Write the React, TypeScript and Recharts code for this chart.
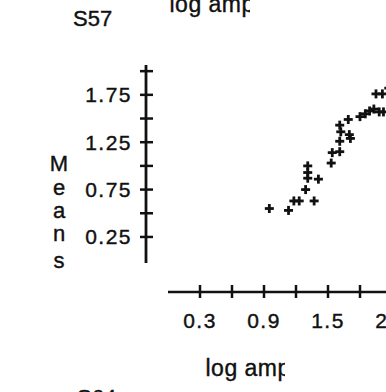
import { ScatterChart, Scatter, XAxis, YAxis } from 'recharts'

// log amplitude (x) and mean response (y)
const logAmp = [
  0.95, 1.13, 1.18, 1.23, 1.29, 1.37, 1.31, 1.31, 1.31, 1.41,
  1.53, 1.54, 1.61, 1.61, 1.61, 1.62, 1.69, 1.7, 1.71, 1.8,
  1.85, 1.89, 1.93, 1.98, 2.02, 1.95, 2.01, 2.07,
]
const means = [
  0.55, 0.53, 0.63, 0.63, 0.75, 0.63, 1.0, 0.93, 0.87, 0.86,
  1.03, 1.14, 1.15, 1.26, 1.43, 1.36, 1.49, 1.33, 1.29, 1.52,
  1.55, 1.58, 1.6, 1.57, 1.57, 1.76, 1.76, 1.82,
]
const points = logAmp.map((x, i) => ({ x, y: means[i] }))

const yTicks = [0.25, 0.5, 0.75, 1, 1.25, 1.5, 1.75, 2]
const yLabelled = [0.25, 0.75, 1.25, 1.75]
const xTicks = [0.3, 0.6, 0.9, 1.2, 1.5, 1.8, 2.1, 2.4]
const xLabelled = [0.3, 0.9, 1.5, 2.1]

const FONT = '"Liberation Sans", Arial, Helvetica, sans-serif'
const INK = '#111'
// scanned type is a little heavier than the regular face
const textInk = { fill: INK, stroke: INK, strokeWidth: 0.4 }

function Plus(props: any) {
  const { cx, cy } = props
  if (cx == null || cy == null) return null
  return (
    <g stroke={INK} strokeWidth={2.8}>
      <line x1={cx - 4.5} x2={cx + 4.5} y1={cy} y2={cy} />
      <line x1={cx} x2={cx} y1={cy - 4.5} y2={cy + 4.5} />
    </g>
  )
}

function YTick({ x, y, payload }: any) {
  const v = payload.value as number
  return (
    <g>
      <line x1={x - 6} x2={x + 7} y1={y} y2={y} stroke={INK} strokeWidth={2.5} />
      {yLabelled.includes(v) && (
        <text x={x - 14} y={y + 7.5} textAnchor="end" fontSize={21} letterSpacing={1.5} fontFamily={FONT} {...textInk}>
          {v.toFixed(2)}
        </text>
      )}
    </g>
  )
}

function XTick({ x, y, payload }: any) {
  const v = payload.value as number
  return (
    <g>
      <line x1={x} x2={x} y1={y - 7} y2={y + 6} stroke={INK} strokeWidth={2.5} />
      {xLabelled.includes(v) && (
        <text x={x} y={y + 36} textAnchor="middle" fontSize={21} letterSpacing={1.5} fontFamily={FONT} {...textInk}>
          {v.toFixed(1)}
        </text>
      )}
    </g>
  )
}

// "Means" stacked one letter per line
function MeansLabel({ viewBox }: any) {
  const { x, y } = viewBox
  const drops = [106, 130, 153, 176, 203]
  return (
    <g fontSize={22} fontFamily={FONT} textAnchor="middle" {...textInk}>
      {'Means'.split('').map((c, i) => (
        <text key={i} x={x + 13} y={y + drops[i]}>{c}</text>
      ))}
    </g>
  )
}

// the scan cuts the "p" of the title in half
function LogAmpLabel({ viewBox }: any) {
  const { x, y } = viewBox
  return (
    <svg x={x + 37} y={y + 60} width={80} height={40} overflow="hidden">
      <text x={0.5} y={24} fontSize={23} letterSpacing={0.5} fontFamily={FONT} {...textInk}>log amp</text>
    </svg>
  )
}

export default function App() {
  return (
    <div style={{ position: 'absolute', left: 0, top: 0, width: 386, height: 392, overflow: 'hidden', background: '#fff' }}>
      <ScatterChart width={440} height={392} margin={{ top: 65, right: 0, bottom: 0, left: 46 }}>
        {/* empty axes only push the real ones away from the plot */}
        <XAxis xAxisId="gap" height={29} axisLine={false} tickLine={false} tick={false} />
        <XAxis
          xAxisId="main"
          dataKey="x"
          type="number"
          domain={[0, 2.55]}
          ticks={xTicks}
          height={100}
          axisLine={{ stroke: INK, strokeWidth: 2.5 }}
          tickLine={false}
          tickSize={0}
          tickMargin={0}
          interval={0}
          tick={(p: any) => <XTick {...p} />}
          label={{ content: (p: any) => <LogAmpLabel {...p} /> }}
        />
        <YAxis yAxisId="gap" width={22} axisLine={false} tickLine={false} tick={false} />
        <YAxis
          yAxisId="main"
          dataKey="y"
          type="number"
          domain={[-0.025, 2.065]}
          ticks={yTicks}
          width={100}
          axisLine={{ stroke: INK, strokeWidth: 2.8 }}
          tickLine={false}
          tickSize={0}
          tickMargin={0}
          interval={0}
          tick={(p: any) => <YTick {...p} />}
          label={{ content: (p: any) => <MeansLabel {...p} /> }}
        />
        <Scatter data={points} xAxisId="main" yAxisId="main" shape={Plus} isAnimationActive={false} />
      </ScatterChart>
      <svg width={386} height={392} style={{ position: 'absolute', left: 0, top: 0, pointerEvents: 'none' }}>
        <g fontSize={22} fontFamily={FONT} {...textInk}>
          <text x={73} y={26}>S57</text>
          <svg x={169} y={-10} width={81} height={30} overflow="hidden">
            <text x={0.5} y={21.5} fontSize={23} letterSpacing={0.5}>log amp</text>
          </svg>
          <text x={77} y={405}>S64</text>
        </g>
      </svg>
    </div>
  )
}
